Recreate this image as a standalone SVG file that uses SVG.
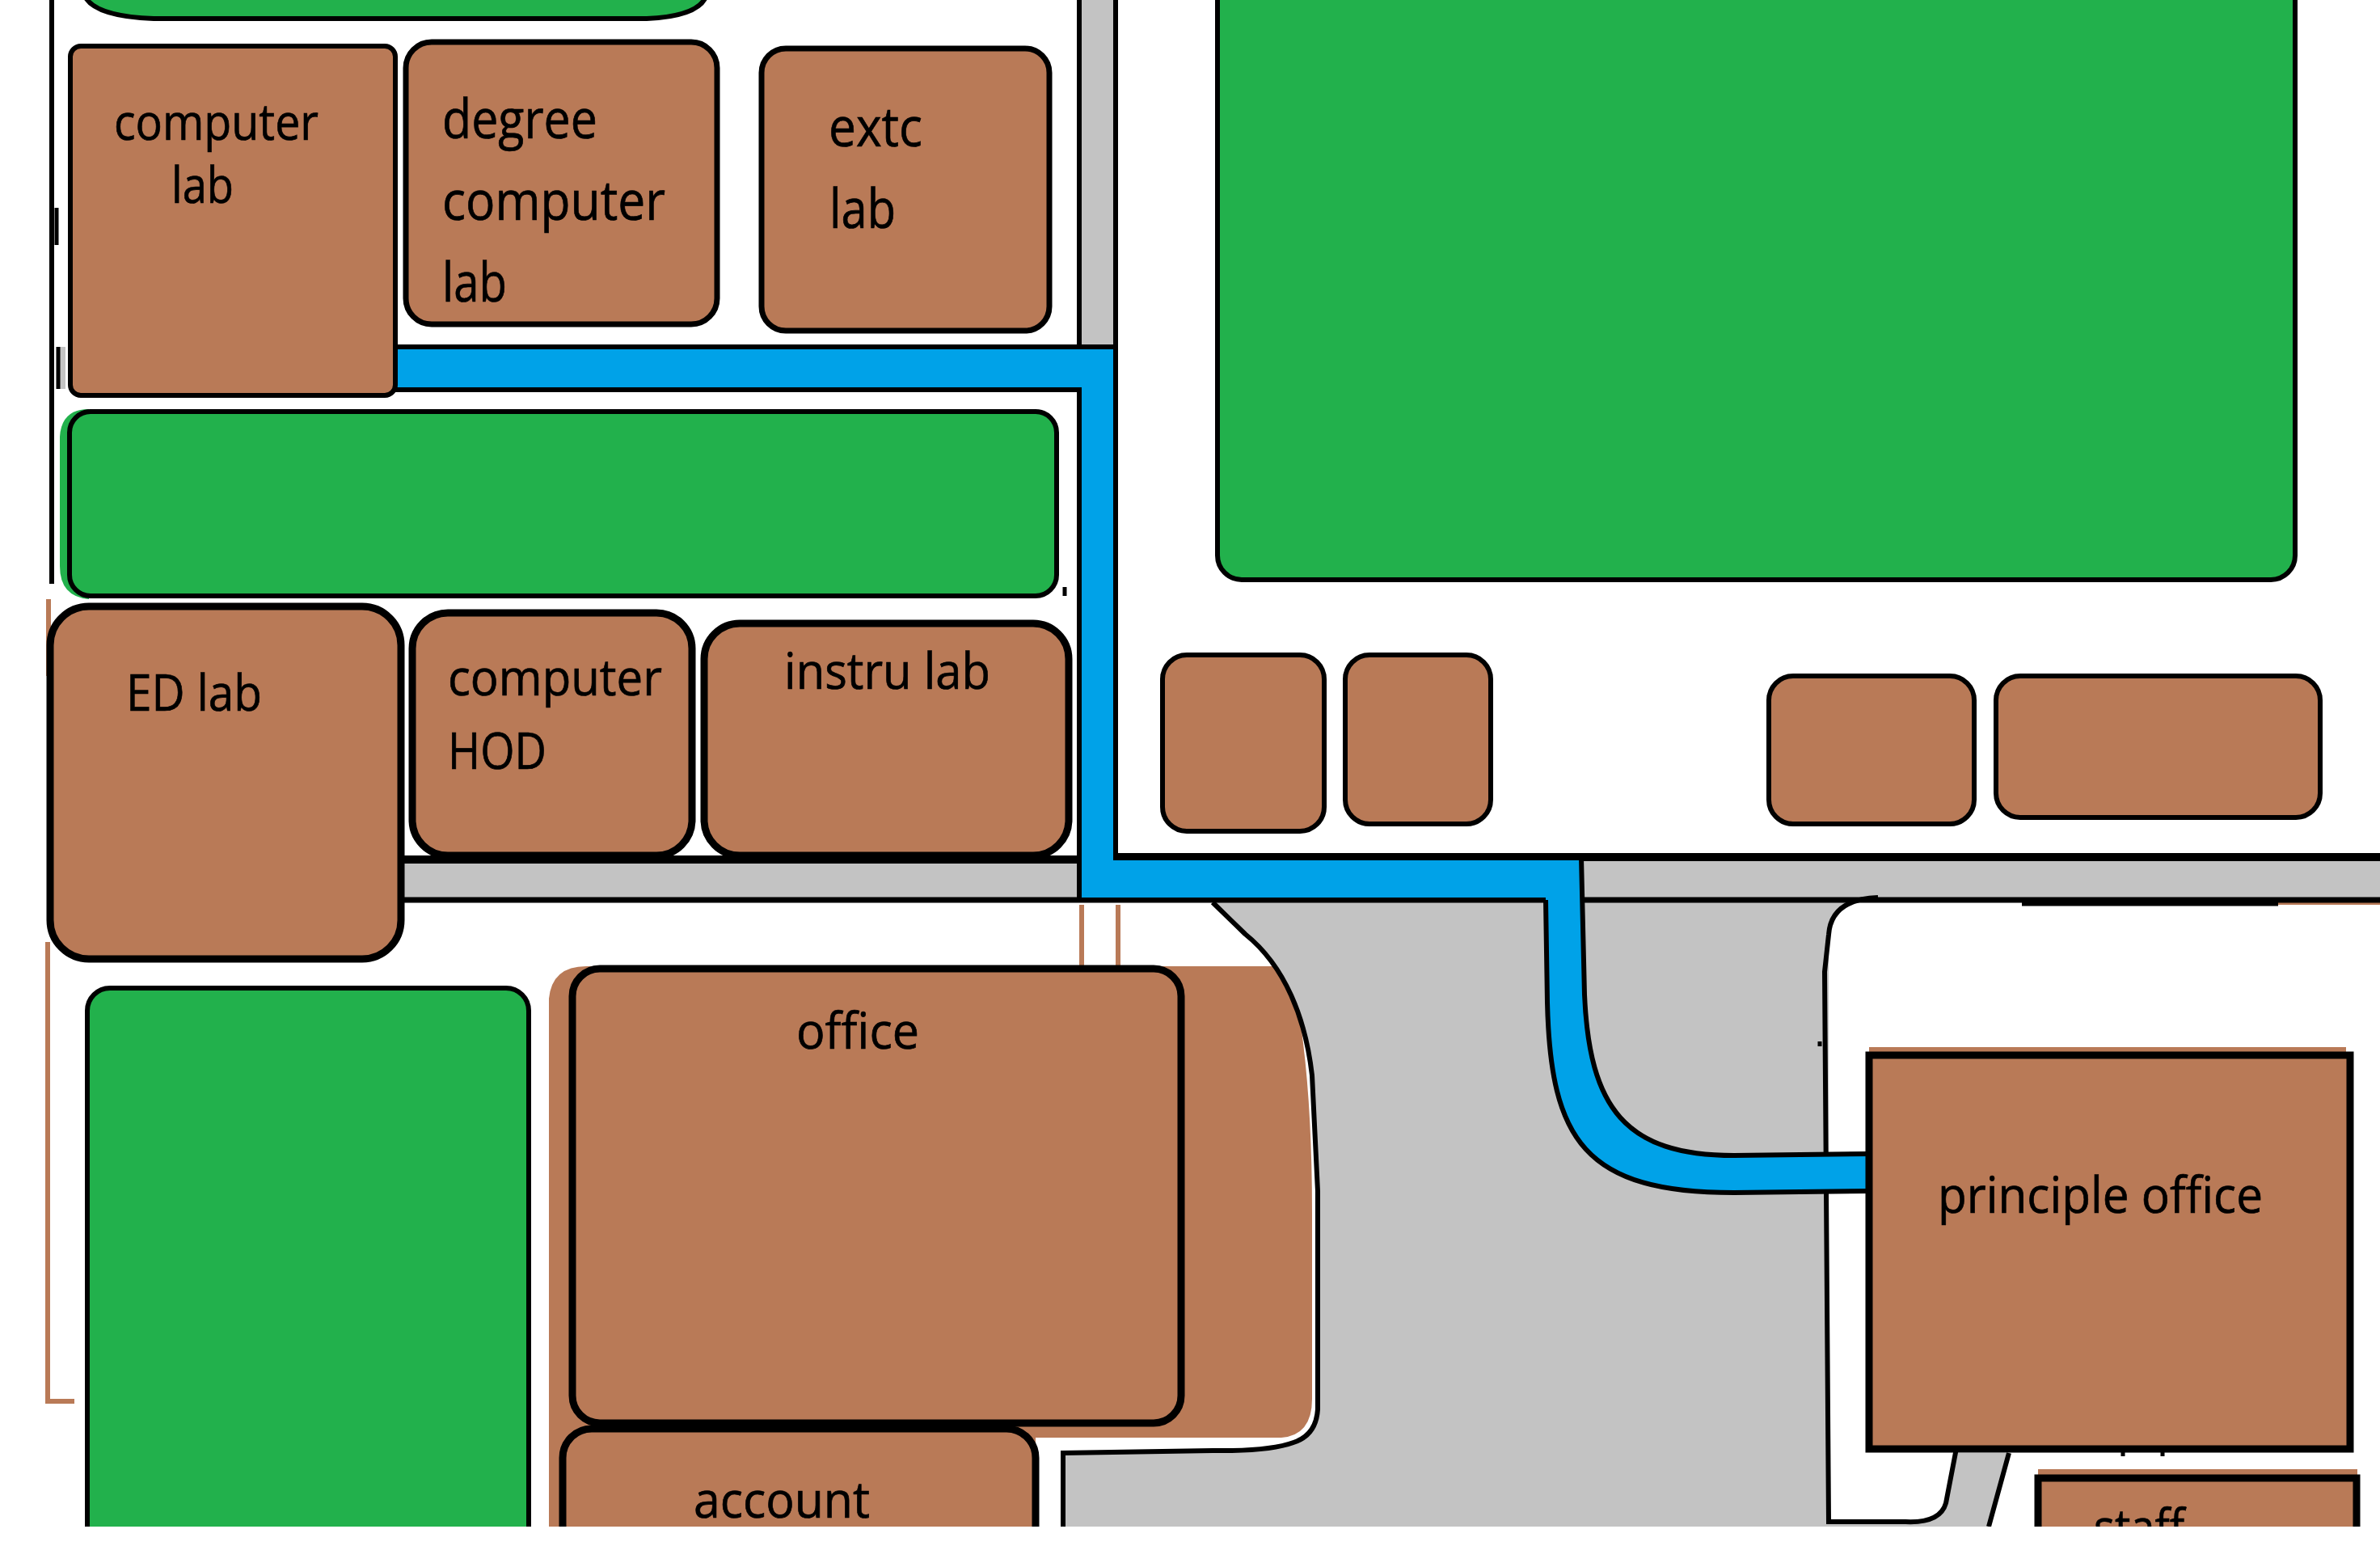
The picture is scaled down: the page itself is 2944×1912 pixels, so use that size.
<svg xmlns="http://www.w3.org/2000/svg" width="2944" height="1912" viewBox="0 0 2944 1912">
<style>
.room{fill:#b97a57;stroke:#000;stroke-width:6}
.mid{stroke-width:7}
.thick{stroke-width:9}
.grn{fill:#22b14c;stroke:#000;stroke-width:6}
.ln{fill:none;stroke:#000;stroke-width:6}
.br{fill:none;stroke:#b97a57;stroke-width:6}
.blue{fill:#00a2e8;stroke:none}
.gray{fill:#c3c3c3;stroke:none}
text{font-family:"Open Sans","Noto Sans",sans-serif;fill:#000;stroke:#000;stroke-width:.7;font-size:62px}
.big{font-size:68px}
</style>
<defs><clipPath id="frame"><rect x="0" y="0" width="2944" height="1888"/></clipPath></defs>
<rect width="2944" height="1912" fill="#fff"/>
<g clip-path="url(#frame)">
<g id="grounds">
<path class="gray" d="M1500 1113L1540 1155C1590 1195 1615 1260 1623 1330L1628 1473V1743Q1625 1775 1600 1784Q1570 1795 1500 1794L1315 1797V1888H2460L2485 1797H2421L2407 1859Q2400 1884 2357 1884H2262V1156Q2265 1112 2323 1110V1113Z"/>
<path class="gray" d="M1335 0H1378V430H1335Z"/>
<rect class="gray" x="490" y="1066" width="850" height="44"/>
<rect class="gray" x="1950" y="1063" width="994" height="48"/>
<rect class="gray" x="72" y="429" width="9" height="52"/>
<path class="br" d="M60 741V836M59 1165V1733H92M1338 1119V1195M1383 1119V1195" />
<path fill="#b97a57" d="M679 1888V1235Q683 1195 725 1195H1578Q1605 1225 1612 1290Q1623 1380 1623 1500V1730Q1623 1775 1585 1778H1281V1888Z"/>
<rect x="2312" y="1295" width="590" height="12" fill="#b97a57"/>
<rect x="2521" y="1817" width="395" height="12" fill="#b97a57"/>
<rect x="2818" y="1113" width="126" height="6" fill="#b97a57"/>
</g>
<g id="outlines">
<path class="ln" d="M64 0V722M1335 0V430M1380 0V430"/>
<path class="ln" style="stroke-width:10" d="M490 1063H1335M1381 1060H2944"/>
<path class="ln" style="stroke-width:7" d="M490 1113H1912M1956 1113H2944"/>
<path class="ln" style="stroke-width:9" d="M2501 1116H2818"/>
<path class="ln" d="M1500 1116L1540 1155C1590 1195 1615 1260 1623 1330L1630 1473V1743Q1628 1775 1600 1784Q1570 1795 1500 1794L1315 1797V1888"/>
<path class="ln" d="M2323 1110Q2265 1112 2262 1156L2257 1202L2262 1882H2357Q2400 1884 2407 1859L2421 1786M2485 1797L2460 1888"/>
<path class="ln" style="stroke-width:5" d="M2251 1288V1294M1317 726V737M70 257V303M72 429V481M2626 1778V1801M2675 1785V1801" />
</g>
<g id="connectors">
<path class="blue" d="M489 432H1335V430H1380V1063H1956L1960 1230C1966 1370 2010 1429 2145 1429L2312 1427V1473L2145 1475C1960 1475 1918 1410 1914 1240L1912 1110H1336V481H489Z"/>
<path class="ln" d="M489 429H1380V1061H1956L1960 1230C1966 1370 2010 1429 2145 1429L2312 1427M2312 1473L2145 1475C1960 1475 1918 1410 1914 1240L1912 1113M489 482H1335V1110"/>
</g>
<g id="lawn-top"><path class="grn" d="M103 -10Q110 20 190 23H800Q870 20 875 -10Z"/></g>
<g id="lawn-mid"><path fill="#22b14c" d="M74 540Q76 506 110 506V741Q74 738 74 700Z"/><rect class="grn" x="86" y="509" width="1221" height="228" rx="26"/></g>
<g id="lawn-right"><rect class="grn" x="1506" y="-40" width="1333" height="757" rx="30"/></g>
<g id="lawn-lower"><rect class="grn" x="108" y="1222" width="546" height="720" rx="28"/></g>
<g id="computer-lab"><rect class="room" x="87" y="57" width="402" height="432" rx="13"/>
<text x="141" y="173" textLength="253" lengthAdjust="spacingAndGlyphs">computer</text><text x="212" y="251" textLength="77" lengthAdjust="spacingAndGlyphs">lab</text></g>
<g id="degree-computer-lab"><rect class="room mid" x="502" y="52" width="385" height="349" rx="32"/>
<text class="big" x="547" y="171" textLength="192" lengthAdjust="spacingAndGlyphs">degree</text><text class="big" x="547" y="272" textLength="276" lengthAdjust="spacingAndGlyphs">computer</text><text class="big" x="547" y="373" textLength="80" lengthAdjust="spacingAndGlyphs">lab</text></g>
<g id="extc-lab"><rect class="room mid" x="942" y="60" width="356" height="349" rx="30"/>
<text class="big" x="1025" y="181" textLength="116" lengthAdjust="spacingAndGlyphs">extc</text><text class="big" x="1026" y="282" textLength="82" lengthAdjust="spacingAndGlyphs">lab</text></g>
<g id="ed-lab"><rect class="room thick" x="62" y="750" width="434" height="436" rx="48"/>
<text x="156" y="879" textLength="168" lengthAdjust="spacingAndGlyphs">ED lab</text></g>
<g id="computer-hod"><rect class="room thick" x="510" y="758" width="346" height="300" rx="44"/>
<text x="554" y="860" textLength="265" lengthAdjust="spacingAndGlyphs">computer</text><text x="554" y="951" textLength="122" lengthAdjust="spacingAndGlyphs">HOD</text></g>
<g id="instru-lab"><rect class="room thick" x="871" y="771" width="451" height="287" rx="44"/>
<text x="970" y="852" textLength="255" lengthAdjust="spacingAndGlyphs">instru lab</text></g>
<g id="room-a"><rect class="room" x="1438" y="810" width="200" height="218" rx="30"/></g>
<g id="room-b"><rect class="room" x="1664" y="810" width="180" height="209" rx="30"/></g>
<g id="room-c"><rect class="room" x="2188" y="836" width="254" height="183" rx="30"/></g>
<g id="room-d"><rect class="room" x="2469" y="836" width="401" height="175" rx="30"/></g>
<g id="office"><rect class="room thick" x="708" y="1198" width="753" height="562" rx="34"/>
<text x="985" y="1297" textLength="152" lengthAdjust="spacingAndGlyphs">office</text></g>
<g id="account"><rect class="room thick" x="696" y="1767" width="585" height="200" rx="36"/>
<text x="858" y="1877" textLength="218" lengthAdjust="spacingAndGlyphs">account</text></g>
<g id="principle-office"><rect class="room thick" x="2312" y="1305" width="595" height="487"/>
<text x="2397" y="1500" textLength="402" lengthAdjust="spacingAndGlyphs">principle office</text></g>
<g id="staff"><rect class="room thick" x="2521" y="1828" width="394" height="120"/>
<text x="2590" y="1911" textLength="112" lengthAdjust="spacingAndGlyphs">staff</text></g>
</g>
</svg>
